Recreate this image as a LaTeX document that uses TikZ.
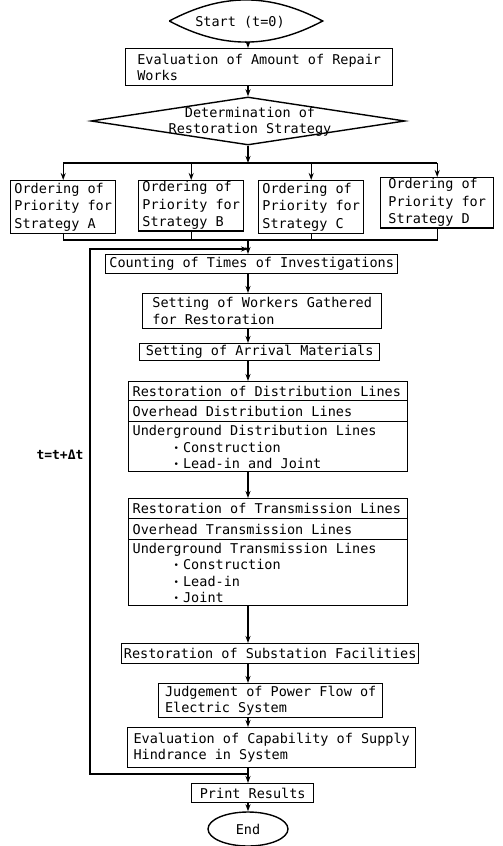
\documentclass[tikz,border=0pt]{standalone}
\usepackage{fontspec}
\setmainfont{DejaVu Sans Mono}
\usetikzlibrary{arrows.meta,shapes.geometric}
\newcommand{\bul}{\hspace*{41pt}\raisebox{1pt}{\fontsize{9}{9}\selectfont•}\hspace{4pt}}
\begin{document}
\begin{tikzpicture}[x=1pt,y=-1pt,
  every node/.style={font=\fontsize{13.5}{16.5}\selectfont},
  line width=1.4pt,
  >={Stealth[length=7pt,width=5pt]},
  bx/.style={draw, anchor=north west, align=left, inner xsep=2pt, inner ysep=1pt},
  ord/.style={bx, font=\fontsize{13.5}{17.5}\selectfont},
  row/.style={draw, anchor=north west, inner sep=0pt, minimum width=279pt},
  rowtext/.style={anchor=west, inner sep=0pt},
  listtext/.style={anchor=north west, align=left, inner sep=0pt, font=\fontsize{13.5}{16.7}\selectfont},
]
\useasboundingbox (0,0) rectangle (503,846);

% start
\node[minimum width=152pt, minimum height=40pt, inner sep=0pt] (start) at (246,21) {};
\draw (start.west) to[bend left=28] (start.east) to[bend left=28] (start.west);
\node (starttext) at (240,22) {Start (t=0)};

\node[bx, minimum width=267pt, minimum height=37pt] (eval) at (125,48) {Evaluation of Amount of Repair\\Works};

\node[draw, diamond, minimum width=314pt, minimum height=48pt, inner sep=0pt] (det) at (248,121) {};
\node[align=center] (dettext) at (250,122) {Determination of\\Restoration Strategy};

\node[ord, minimum width=105pt, minimum height=53pt] (ordA) at (10,180) {Ordering of\\Priority for\\Strategy A};
\node[ord, minimum width=105pt, minimum height=49pt] (ordB) at (138,180) {Ordering of\\Priority for\\Strategy B};
\node[ord, minimum width=105pt, minimum height=53pt] (ordC) at (258,180) {Ordering of\\Priority for\\Strategy C};
\node[ord, minimum width=113pt, minimum height=48pt] (ordD) at (380,177) {Ordering of\\Priority for\\Strategy D};

\node[bx, minimum width=292pt, minimum height=19pt] (count) at (105,254) {Counting of Times of Investigations};
\node[bx, minimum width=239pt, minimum height=35pt] (work) at (142,293) {Setting of Workers Gathered\\for Restoration};
\node[bx, minimum width=240pt, minimum height=17pt] (arr) at (139,343) {Setting of Arrival Materials};

% distribution lines box
\node[row, minimum height=19pt] (dist) at (128,381) {};
\node[row, minimum height=21pt] (distO) at (128,400) {};
\node[row, minimum height=50pt] (distU) at (128,421) {};
\node[rowtext] (distT) at ([xshift=4pt]dist.west) {Restoration of Distribution Lines};
\node[rowtext] (distOT) at ([xshift=4pt]distO.west) {Overhead Distribution Lines};
\node[listtext] (distUT) at ([shift={(4,3.5)}]distU.north west) {Underground Distribution Lines\\
\bul Construction\\
\bul Lead-in and Joint};

% transmission lines box
\node[row, minimum height=20pt] (trans) at (128,498) {};
\node[row, minimum height=21pt] (transO) at (128,518) {};
\node[row, minimum height=66pt] (transU) at (128,539) {};
\node[rowtext] (transT) at ([xshift=4pt]trans.west) {Restoration of Transmission Lines};
\node[rowtext] (transOT) at ([xshift=4pt]transO.west) {Overhead Transmission Lines};
\node[listtext, font=\fontsize{13.5}{16.3}\selectfont] (transUT) at ([shift={(4,3.5)}]transU.north west) {Underground Transmission Lines\\
\bul Construction\\
\bul Lead-in\\
\bul Joint};

\node[bx, minimum width=297pt, minimum height=20pt] (sub) at (121,643) {Restoration of Substation Facilities};
\node[bx, minimum width=224pt, minimum height=34pt] (judge) at (158,683) {Judgement of Power Flow of\\Electric System};
\node[bx, minimum width=288pt, minimum height=40pt] (cap) at (127,727) {Evaluation of Capability of Supply\\Hindrance in System};
\node[bx, minimum width=122pt, minimum height=19pt] (print) at (191,783) {Print Results};
\node[draw, ellipse, minimum width=80pt, minimum height=34pt, inner sep=0pt] (end) at (248,829) {End};

\node[font=\fontsize{13}{15}\selectfont\bfseries] (tlab) at (60,455) {t=t+Δt};

% connectors
\coordinate (spine) at (248,0);
\draw[->] (spine |- start.south) -- (spine |- eval.north);
\draw[->] (spine |- eval.south) -- (det.north);
\coordinate (j1) at (248,163);
\draw[->] (det.south) -- (j1);
\draw (ordA.north |- j1) -- (ordD.north |- j1);
\foreach \n in {ordA,ordB,ordC,ordD} \draw[->] (\n.north |- j1) -- (\n.north);
\coordinate (j2) at (248,240);
\draw (ordA.south) -- (ordA.south |- j2) -- (ordD.south |- j2) -- (ordD.south);
\draw (ordB.south) -- (ordB.south |- j2);
\draw (ordC.south) -- (ordC.south |- j2);
\draw[->] (j2) -- (spine |- count.north);
\coordinate (j3) at (248,249);
\coordinate (lt) at (90,249);
\coordinate (lb) at (90,774);
\coordinate (j4) at (248,774);
\draw[->] (j4) -- (lb) -- (lt) -- (j3);

\draw[->] (spine |- count.south) -- (spine |- work.north);
\draw[->] (spine |- work.south) -- (spine |- arr.north);
\draw[->] (spine |- arr.south) -- (spine |- dist.north);
\draw[->] (spine |- distU.south) -- (spine |- trans.north);
\draw[->] (spine |- transU.south) -- (spine |- sub.north);
\draw[->] (spine |- sub.south) -- (spine |- judge.north);
\draw[->] (spine |- judge.south) -- (spine |- cap.north);
\draw[->] (spine |- cap.south) -- (spine |- print.north);
\draw[->] (spine |- print.south) -- (end.north);
\end{tikzpicture}
\end{document}
